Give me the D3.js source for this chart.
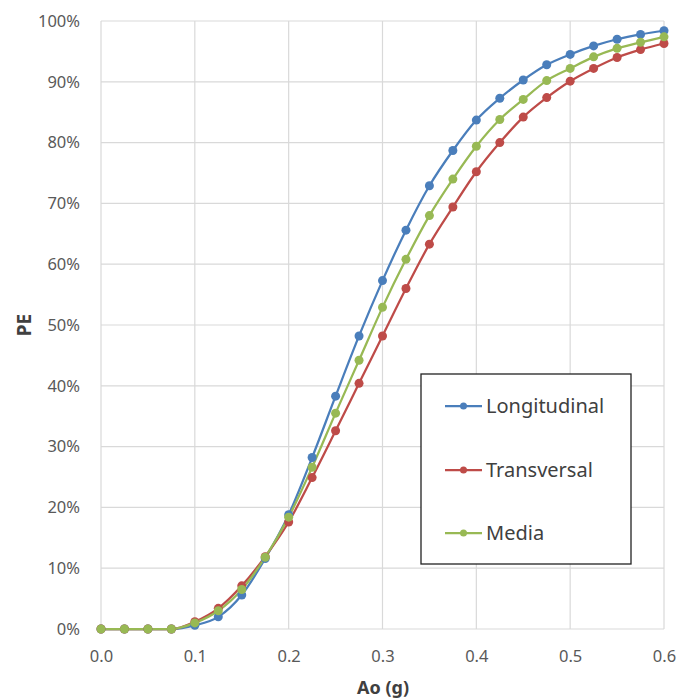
<!DOCTYPE html>
<html><head><meta charset="utf-8">
<script src="https://cdn.jsdelivr.net/npm/d3@7/dist/d3.min.js"></script>
<style>body{margin:0;background:#fff}</style>
</head><body>
<svg id="c" width="679" height="700"></svg>
<script>
const ao = [0,0.025,0.05,0.075,0.1,0.125,0.15,0.175,0.2,0.225,0.25,0.275,0.3,0.325,0.35,0.375,0.4,0.425,0.45,0.475,0.5,0.525,0.55,0.575,0.6];
const longitudinal = [0,0,0,0,0.6,2.0,5.6,11.6,18.8,28.2,38.3,48.2,57.3,65.6,72.9,78.7,83.7,87.3,90.3,92.8,94.5,95.9,97.0,97.8,98.4];
const transversal  = [0,0,0,0,1.2,3.4,7.1,11.9,17.6,24.9,32.6,40.4,48.2,56.0,63.3,69.4,75.2,80.0,84.2,87.4,90.1,92.2,94.0,95.3,96.3];
const media        = [0,0,0,0,1.0,3.0,6.5,11.8,18.4,26.6,35.5,44.2,52.9,60.8,68.0,74.0,79.4,83.8,87.1,90.2,92.2,94.1,95.5,96.5,97.4];
const seriesNames = ["Longitudinal","Transversal","Media"];
const seriesColors = ["#4A7EBB","#BE4B48","#98B954"];
const xTicks = [0,0.1,0.2,0.3,0.4,0.5,0.6];
const yTicks = [0,10,20,30,40,50,60,70,80,90,100];

const svg = d3.select("#c");
const L=101, R=664, T=21, B=629;
const x = d3.scaleLinear().domain([0,0.6]).range([L,R]);
const y = d3.scaleLinear().domain([0,100]).range([B,T]);
const font = "'Noto Sans', 'Open Sans', sans-serif";

// grid
svg.append("g").selectAll("line").data(yTicks).join("line")
  .attr("x1",L).attr("x2",R).attr("y1",d=>y(d)).attr("y2",d=>y(d))
  .attr("stroke","#d9d9d9").attr("stroke-width",1.2);
svg.append("g").selectAll("line").data(xTicks).join("line")
  .attr("y1",T).attr("y2",B).attr("x1",d=>x(d)).attr("x2",d=>x(d))
  .attr("stroke","#d9d9d9").attr("stroke-width",1.2);

// axes labels
const yAxis = d3.axisLeft(y).tickValues(yTicks).tickFormat(d=>d+"%").tickSize(0).tickPadding(21);
const ga = svg.append("g").attr("transform",`translate(${L},0)`).call(yAxis);
ga.select(".domain").remove();
ga.selectAll("text").attr("fill","#595959").style("font-family",font).style("font-size","16.5px");

const xAxis = d3.axisBottom(x).tickValues(xTicks).tickFormat(d3.format(".1f")).tickSize(0).tickPadding(21);
const gx = svg.append("g").attr("transform",`translate(0,${B})`).call(xAxis);
gx.select(".domain").remove();
gx.selectAll("text").attr("fill","#595959").style("font-family",font).style("font-size","16.5px");

// titles
svg.append("text").attr("x",383).attr("y",694).attr("text-anchor","middle")
  .attr("fill","#404040").style("font-family",font).style("font-weight","bold").style("font-size","18px").text("Ao (g)");
svg.append("text").attr("transform","translate(31,325) rotate(-90)").attr("text-anchor","middle")
  .attr("fill","#404040").style("font-family",font).style("font-weight","bold").style("font-size","19px").text("PE");

// series
const allSeries = [longitudinal, transversal, media];
const line = d3.line().x((d,i)=>x(ao[i])).y(d=>y(d)).curve(d3.curveMonotoneX);
allSeries.forEach((s,k)=>{
  svg.append("path").datum(s).attr("d",line).attr("fill","none")
    .attr("stroke",seriesColors[k]).attr("stroke-width",2.25);
});
allSeries.forEach((s,k)=>{
  svg.append("g").selectAll("circle").data(s).join("circle")
    .attr("cx",(d,i)=>x(ao[i])).attr("cy",d=>y(d)).attr("r",4.5)
    .attr("fill",seriesColors[k]);
});

// legend
const lg = svg.append("g");
lg.append("rect").attr("x",421).attr("y",374).attr("width",210).attr("height",190)
  .attr("fill","#fff").attr("stroke","#222").attr("stroke-width",1.3);
const legY = [406,470,533];
seriesNames.forEach((n,k)=>{
  lg.append("line").attr("x1",445).attr("x2",482).attr("y1",legY[k]).attr("y2",legY[k])
    .attr("stroke",seriesColors[k]).attr("stroke-width",2.25);
  lg.append("circle").attr("cx",463.5).attr("cy",legY[k]).attr("r",3.5).attr("fill",seriesColors[k]);
  lg.append("text").attr("x",486).attr("y",legY[k]+7).attr("fill","#404040")
    .style("font-family",font).style("font-size","20px").text(n);
});
</script>
</body></html>
